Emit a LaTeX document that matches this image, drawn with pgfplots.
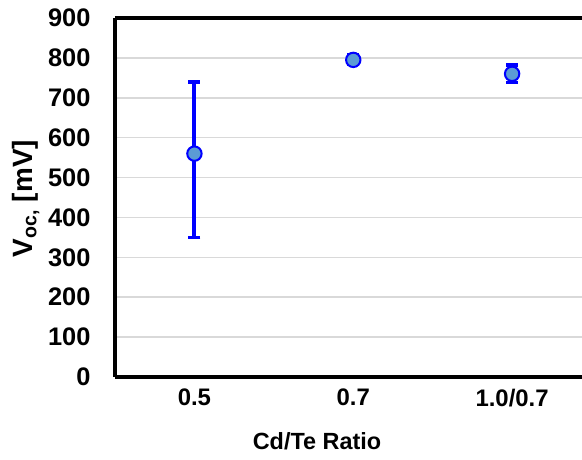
\documentclass[border=0pt]{standalone}
\usepackage{fontspec}
\setmainfont{Liberation Sans}
\usepackage{pgfplots}
\pgfplotsset{compat=1.18}
\definecolor{mfill}{HTML}{5B9BD5}
\definecolor{gridc}{HTML}{D9D9D9}
\begin{document}
\begin{tikzpicture}
\begin{axis}[name=ax, scale only axis, width=467bp, height=359bp,
 xmin=-0.5, xmax=2.44, ymin=0, ymax=900,
 axis x line=box, axis y line=left,
 axis line style={line width=4bp, black, -},
 xtick={0,1,2}, xticklabels={0.5,0.7,1.0/0.7},
 ytick={0,100,...,900},
 major tick length=0pt,
 ymajorgrids, grid style={gridc, line width=1.5bp},
 /pgf/number format/assume math mode=true,
 yticklabel style={font=\fontsize{25.5}{30}\selectfont\bfseries, xshift=-21bp},
 xticklabel style={font=\fontsize{24}{28}\selectfont\bfseries, yshift=-8.5bp},
 xlabel={Cd/Te Ratio}, ylabel={V\textsubscript{oc,} [mV]},
 xlabel style={font=\fontsize{23.5}{28}\selectfont\bfseries, at={(axis description cs:0.4325,0)}, anchor=north, yshift=-55.6bp, inner sep=0pt},
 ylabel style={font=\fontsize{28}{32}\selectfont\bfseries, at={(axis description cs:0,0.497)}, anchor=center, yshift=89bp},
 clip=false,
]
\addplot[only marks, mark=*, mark size=7.2bp, mark options={fill=mfill, draw=blue, line width=2bp},
 error bars/.cd, y dir=both, y explicit,
 error bar style={line width=4bp, blue},
 error mark options={rotate=90, mark size=6bp, line width=3.5bp, blue}]
 coordinates {(0,560) += (0,180) -= (0,210) (1,795) +- (0,12) (2,760) +- (0,22)};
\end{axis}
\pgfresetboundingbox
\path ([xshift=-115bp,yshift=-83bp]ax.south west) rectangle ([yshift=18bp]ax.north east);
\end{tikzpicture}
\end{document}
